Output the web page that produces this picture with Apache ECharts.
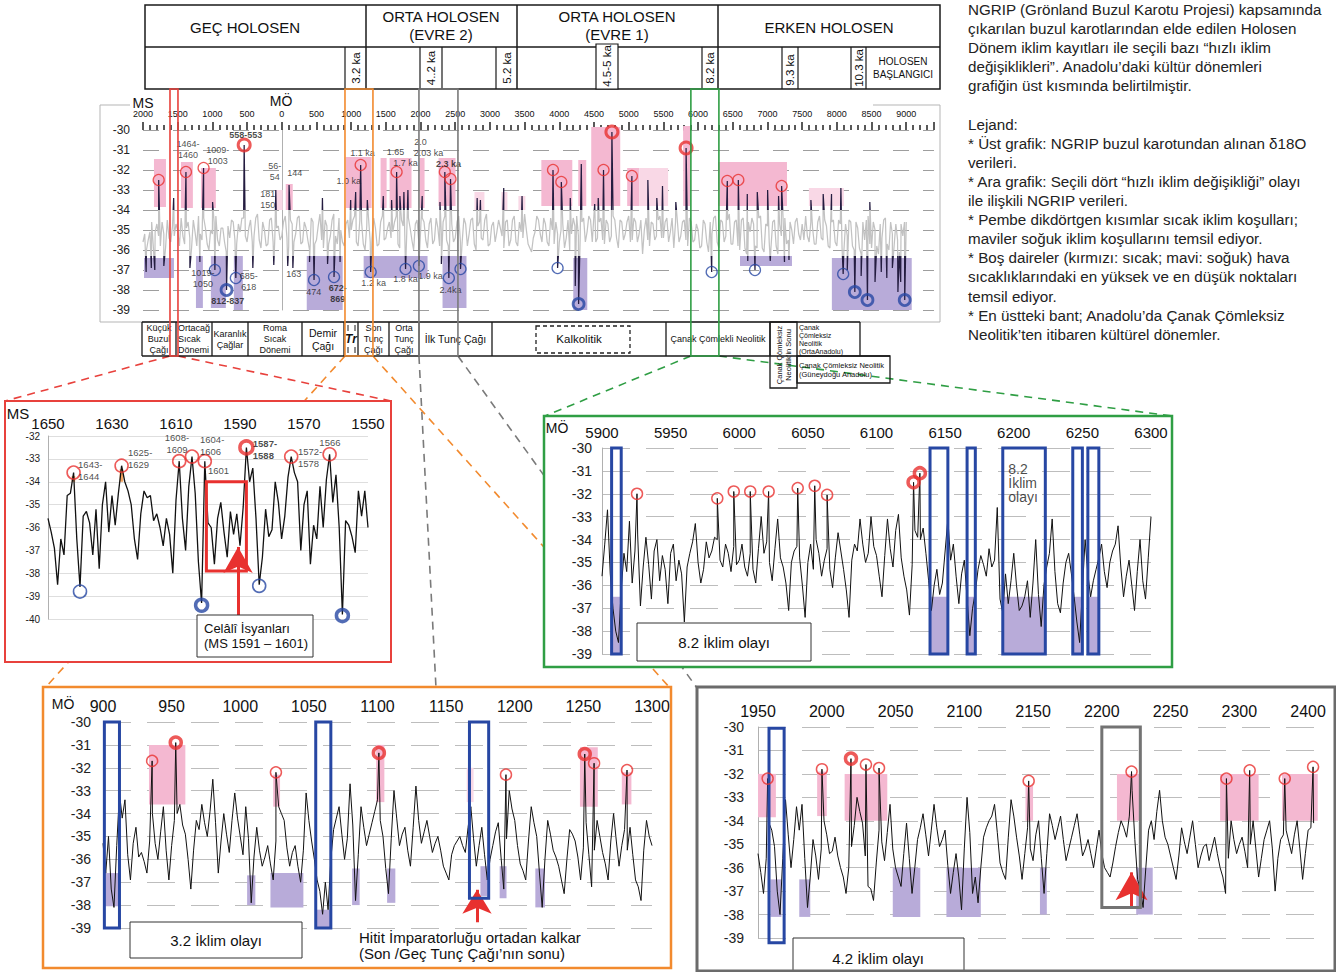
<!DOCTYPE html>
<html><head><meta charset="utf-8">
<script src="https://cdn.jsdelivr.net/npm/echarts@6/dist/echarts.min.js"></script>
<style>html,body{margin:0;padding:0;background:#fff;}#c{width:1336px;height:972px;}</style>
</head><body><div id="c"></div>
<script>
const FONT = '"Liberation Sans", Arial, sans-serif';
// ================= DATA =================
// Main chart: x = year, negative = MS (AD), positive = MÖ (BC)
const mainStart = -2000, mainStep = 50;
const mainValues = [
-35.6,-36.0,-35.1,-35.9,-34.7,-35.8,-35.2,-34.5,-35.6,-35.3,
-35.0,-34.4,-35.7,-34.6,-35.9,-35.1,-34.3,-35.5,-34.9,-36.0,
-35.2,-34.3,-35.8,-34.9,-36.1,-35.4,-34.6,-35.7,-35.1,-34.4,
-35.6,-34.5,-35.3,-34.2,-35.9,-35.0,-35.7,-34.4,-35.4,-34.8,
-35.3,-34.3,-35.8,-34.7,-35.2,-34.3,-35.6,-34.9,-36.0,-34.6,
-35.5,-34.2,-35.9,-34.8,-35.3,-34.2,-35.7,-35.0,-35.8,-34.5,
-35.0,-34.3,-35.8,-34.6,-36.0,-34.4,-35.4,-34.9,-35.7,-34.3,
-35.4,-34.6,-35.1,-34.3,-35.9,-34.8,-35.3,-34.9,-36.0,-34.5,
-35.1,-34.6,-35.9,-34.4,-35.5,-34.9,-35.2,-34.3,-35.8,-34.7,
-35.4,-34.3,-35.6,-34.7,-35.2,-34.4,-36.0,-34.6,-35.5,-34.2,
-35.7,-34.6,-35.1,-34.9,-35.9,-34.5,-35.5,-34.3,-35.8,-35.1,
-34.2,-35.7,-36.1,-35.1,-34.5,-35.6,-34.7,-35.8,-35.0,-34.6,
-35.6,-34.7,-35.4,-36.0,-34.4,-34.3,-35.5,-34.4,-35.1,-34.5,
-34.2,-35.4,-34.4,-35.7,-34.7,-35.3,-34.5,-35.9,-34.6,-35.2,
-34.3,-35.5,-34.6,-35.2,-36.2,-34.4,-35.8,-34.7,-35.3,-34.3,
-35.4,-34.4,-35.1,-35.9,-34.5,-35.3,-34.5,-35.8,-34.6,-35.5,
-35.0,-35.8,-34.7,-36.1,-35.2,-34.3,-35.9,-34.6,-35.3,-34.2,
-35.7,-34.5,-36.0,-34.4,-36.2,-35.1,-34.7,-35.9,-34.3,-36.1,
-34.8,-35.9,-34.5,-36.2,-35.3,-34.4,-35.5,-35.0,-34.6,-35.2,
-34.7,-34.3,-35.6,-34.9,-35.7,-34.3,-35.5,-34.8,-35.9,-34.5,
-35.8,-34.7,-36.1,-35.3,-34.6,-36.0,-34.9,-36.2,-35.5,-34.3,
-35.9,-35.0,-36.2,-35.4,-34.4,-36.0,-35.2,-34.7,-36.1,-35.3,
-34.6];
// readings half-way between the 50-year points above (years -1975, -1925, ...)
const mainMidStart = -1975;
const mainMidValues = [
-35.2,-35.5,-34.6,-35.1,-35.3,-34.6,-35.9,-35.4,-34.8,-34.7,
-35.8,-35.3,-34.9,-35.4,-34.5,-35.8,-35.2,-34.4,-35.7,-35.0,
-34.6,-35.5,-34.9,-35.6,-34.8,-34.5,-35.5,-34.7,-34.4,-35.3,
-34.9,-35.6,-34.4,-35.5,-34.6,-35.8,-34.5,-35.6,-34.9,-35.5,
-34.6,-35.4,-34.5,-35.6,-34.4,-35.7,-34.6,-35.5,-34.4,-35.7,
-34.8,-35.5,-34.5,-35.7,-34.5,-35.3,-34.4,-35.6,-34.7,-35.4,
-34.5,-35.6,-34.5,-35.7,-34.8,-35.6,-34.4,-35.8,-34.6,-35.5,
-34.9,-35.4,-34.6,-35.7,-34.5,-35.6,-34.4,-35.5,-34.7,-35.6,
-34.4,-35.5,-34.7,-35.7,-34.4,-35.8,-34.6,-35.5,-34.5,-35.6,
-34.6,-35.6,-34.4,-35.8,-34.5,-35.7,-34.8,-35.4,-34.5,-35.8,
-34.8,-35.6,-34.5,-35.3,-34.6,-35.8,-34.5,-35.6,-34.6,-35.4,
-35.0,-35.9,-35.4,-34.3,-35.2,-34.4,-35.6,-34.4,-35.7,-35.2,
-35.0,-35.9,-34.5,-35.2,-34.8,-35.3,-34.6,-35.6,-34.3,-35.6,
-35.6,-34.6,-35.5,-34.5,-35.6,-34.3,-35.4,-34.5,-35.5,-34.6,
-35.6,-34.4,-35.6,-34.5,-35.0,-35.5,-34.6,-35.5,-34.5,-35.4,
-34.6,-35.6,-34.4,-34.6,-35.6,-34.6,-35.5,-34.4,-35.6,-34.7,
-35.9,-34.5,-35.6,-34.6,-34.4,-35.6,-34.5,-35.6,-34.5,-35.7,
-34.6,-35.8,-34.5,-35.9,-34.6,-34.4,-35.8,-34.4,-35.9,-34.7,
-35.6,-34.6,-35.8,-34.7,-34.4,-35.7,-34.6,-35.7,-34.4,-35.5,
-35.5,-35.3,-34.6,-35.7,-34.6,-35.4,-34.5,-35.8,-34.6,-35.6,
-34.5,-35.9,-34.7,-34.5,-35.8,-34.6,-35.9,-34.6,-34.5,-35.7,
-34.6,-35.8,-34.7,-34.5,-35.7,-34.6,-35.8,-35.5,-34.7,-34.6];
const mainWarmPeaks = [[-1774,-32.5],[-1381,-32.1],[-1127,-31.9],[1137,-31.75],[1655,-32.1],[2350,-32.1],[2432,-32.45],[3909,-32.0],[4029,-32.6],[4637,-32.0],[5046,-32.3],[6421,-32.55],[6580,-32.5],[7204,-32.8]];
const mainWarmPeaksBold = [[-542,-30.75],[4758,-30.1],[5827,-30.9]];
const mainWarmSpikes = [[-1558,-33.4],[-997,-33.6],[-86,-33.0],[105,-32.75],[586,-33.4],[993,-33.5],[1065,-33.1],[1233,-33.5],[1463,-33.3],[1583,-33.5],[1702,-33.3],[1760,-33.1],[1818,-33.0],[2024,-33.3],[2280,-33.6],[2816,-33.4],[2863,-33.5],[3199,-32.9],[3463,-33.3],[4158,-33.4],[4317,-31.7],[4510,-33.7],[4561,-33.4],[5276,-32.5],[5405,-33.4],[5487,-32.8],[5679,-33.6],[6709,-33.2],[6853,-33.1],[7002,-33.0],[7160,-33.3],[7626,-33.5],[7803,-33.2],[7923,-33.2],[8058,-32.9],[8475,-33.6]];
const mainColdPeaks = [[-964,-37.0],[-662,-37.4],[465,-37.5],[753,-37.35],[1281,-37.1],[1784,-36.95],[1976,-36.8],[2408,-37.4],[2576,-36.95],[3975,-36.9],[6196,-37.1],[6820,-37.0],[8091,-37.2]];
const mainColdPeaksBold = [[-796,-38.0],[4278,-38.7],[8259,-38.1],[8441,-38.5],[8978,-38.5]];
const mainColdSpikes = [[-1955,-37.1],[-1880,-36.9],[-1830,-37.0],[-1700,-36.8],[-1324,-36.9],[-1180,-36.6],[-417,-36.9],[-115,-36.75],[86,-36.8],[160,-36.9],[400,-36.6],[660,-36.7],[840,-36.6],[2300,-36.7],[4230,-37.8],[6716,-36.55],[7040,-36.55],[7245,-36.6],[7310,-36.5],[8150,-37.0],[8350,-37.3],[8550,-37.6],[8640,-37.1],[8720,-37.4],[8800,-36.9],[8880,-38.1],[8920,-37.6]];
// boxes: [xFrom, xTo, yTop, yBottom]
const mainPinkBoxes = [[-1842,-1669,-31.45,-33.85],[-1453,-1281,-31.6,-33.9],[-1165,-950,-31.9,-33.9],[57,158,-32.7,-34.0],[921,1295,-31.35,-33.9],[1424,1511,-31.4,-33.9],[1554,1870,-31.4,-33.9],[1985,2058,-31.4,-33.9],[2259,2504,-31.4,-33.8],[3741,4187,-31.5,-33.8],[4273,4388,-31.5,-33.8],[4460,4878,-29.85,-33.8],[4978,5150,-31.9,-33.8],[5784,5885,-29.8,-33.8],[6288,7281,-31.6,-33.8]];
const mainLightPinkBoxes = [[-86,14,-33.0,-34.0],[2777,2921,-33.1,-34.0],[3165,3252,-33.1,-34.0],[3410,3511,-33.3,-34.0],[5150,5568,-31.9,-33.8],[7597,8101,-32.9,-33.8]];
const mainPurpleBoxes = [[-1986,-1554,-36.4,-37.4],[-1237,-1137,-36.3,-38.9],[-1022,-806,-36.3,-38.9],[-691,-561,-36.3,-39.0],[360,878,-36.3,-39.0],[1180,2101,-36.3,-37.4],[2317,2662,-36.3,-38.9],[4201,4403,-36.4,-39.0],[6604,7353,-36.3,-36.8],[7928,9079,-36.4,-39.0]];
// notes: [x, y, text, bold, align]
const mainNotes = [[-1353,-30.98,'1464-\n1460'],[-921,-31.25,'1009-\n1003'],[-518,-30.25,'558-553',1],[-101,-32.05,'56-\n54'],[-202,-33.45,'181\n150'],[187,-32.15,'144'],[1165,-31.15,'1.1 ka'],[964,-32.55,'1.0 ka'],[1640,-31.1,'1.65'],[1784,-31.65,'1.7 ka'],[2000,-30.6,'2.0'],[2115,-31.15,'2.03 ka'],[2403,-31.7,'2.3 ka',1],[-1137,-37.4,'1019-\n1050'],[-777,-38.55,'812-837',1],[-475,-37.55,'685-\n618'],[173,-37.2,'163'],[461,-38.1,'474'],[806,-38.15,'672-\n869',1],[1324,-37.65,'1.2 ka'],[1784,-37.45,'1.8 ka'],[2144,-37.3,'1.9 ka'],[2432,-38.0,'2.4ka']];
// zoom windows on the main axis
const winRed = [-1611,-1496], winOrange = [911,1314], winGray = [1977,2539], winGreen = [5896,6300];

// Red panel (MS 1650 -> 1550, yearly)
const redStart = 1650, redStep = -1;
const redValues = [
-35.6,-36.2,-36.9,-38.5,-36.5,-37.2,-34.6,-34.5,-33.6,-36.5,
-38.6,-35.5,-35.3,-35.8,-37.2,-35.2,-37.8,-35.0,-34.0,-36.2,
-34.6,-35.9,-34.5,-33.3,-34.0,-34.4,-35.0,-36.5,-37.4,-35.4,
-34.4,-34.7,-34.6,-35.7,-35.4,-36.0,-36.8,-35.6,-36.3,-38.0,
-34.8,-33.1,-35.6,-37.0,-34.2,-32.9,-34.5,-37.5,-39.3,-33.1,
-35.8,-36.0,-37.6,-35.6,-34.9,-36.2,-37.3,-35.3,-36.3,-35.4,
-36.8,-35.1,-32.5,-34.0,-33.4,-35.6,-38.5,-37.3,-35.2,-36.4,
-36.1,-34.0,-34.9,-36.5,-35.5,-33.8,-32.9,-33.6,-34.0,-37.0,
-35.0,-34.4,-37.6,-35.9,-36.5,-34.2,-36.0,-33.9,-32.8,-34.9,
-33.7,-36.0,-39.8,-35.7,-35.9,-36.4,-37.1,-34.4,-35.5,-34.4,
-36.0];
const redWarm = [[1642,-33.6],[1627,-33.3],[1609,-33.1],[1605,-32.9],[1601,-33.1],[1574,-32.9],[1562,-32.8]];
const redWarmBold = [[1588,-32.5]];
const redCold = [[1640,-38.8],[1584,-38.55]];
const redColdBold = [[1602,-39.4],[1558,-39.85]];
const redOrangeBoxes = [[1642.6,1641.5,-33.75,-34.0],[1627.6,1626.5,-33.45,-34.0]];
const redCelaliBox = [[1600.5,1588.0,-34.0,-37.9]];
const redArrow = [1590.6,-39.85,-36.85];
const redNotes = [[1640.6,-33.5,'1643-\n1644',0,'left'],[1625,-32.98,'1625-\n1629',0,'left'],[1609.7,-32.33,'1608-\n1609',0,'center'],[1602.5,-32.4,'1604-\n1606',0,'left'],[1600,-33.53,'1601',0,'left'],[1586,-32.6,'1587-\n1588',1,'left'],[1571.9,-32.94,'1572-\n1578',0,'left'],[1561.9,-32.3,'1566',0,'center']];

// Green panel (MÖ 5900 - 6300)
const greenStart = 5900, greenStep = 4;
const greenValues = [
-35.6,-32.7,-37.0,-38.5,-34.6,-33.2,-34.5,-36.9,-33.9,-36.6,
-34.0,-34.7,-36.8,-34.2,-34.9,-37.6,-34.6,-33.3,-35.9,-34.1,
-34.5,-34.0,-35.2,-34.6,-34.3,-34.9,-35.2,-34.6,-35.9,-33.0,
-34.1,-35.8,-33.1,-35.2,-37.1,-34.5,-34.8,-37.4,-34.2,-34.0,
-35.6,-34.4,-36.1,-33.7,-35.3,-37.4,-34.2,-33.1,-35.0,-33.0,
-34.7,-36.5,-33.1,-35.2,-32.9,-35.6,-37.3,-33.6,-34.0,-34.6,
-37.1,-35.3,-35.9,-33.1,-34.2,-36.8,-34.9,-38.2,-36.3,-34.7,
-35.6,-35.2,-32.6,-37.2,-36.8,-34.6,-37.1,-36.5,-37.4,-34.0,
-37.8,-35.2,-33.1,-36.8,-35.9,-34.6,-36.5,-38.5,-34.0,-36.5,
-35.3,-34.2,-36.1,-34.5,-33.4,-36.5,-34.9,-37.1,-34.0,-36.6,
-33.0];
const greenMidStart = 5902;
const greenMidValues = [
-34.2,-35.5,-38.0,-36.2,-35.4,-35.9,-33.8,-35.2,-35.1,-34.5,
-35.8,-35.3,-34.6,-35.8,-35.5,-35.2,-34.1,-35.0,-35.3,-34.8,
-33.9,-34.9,-34.2,-35.4,-35.1,-34.2,-35.6,-35.3,-34.4,-34.6,
-35.0,-34.4,-34.8,-35.9,-35.0,-34.3,-36.0,-35.0,-35.3,-34.6,
-34.9,-35.3,-34.8,-34.5,-36.2,-34.9,-34.5,-34.2,-34.6,-34.3,
-35.6,-34.7,-34.4,-33.6,-34.8,-36.2,-35.1,-33.9,-33.5,-35.8,
-36.0,-36.4,-34.5,-34.9,-35.6,-35.5,-36.6,-37.0,-35.3,-35.1,
-34.4,-34.9,-36.6,-35.5,-35.8,-36.0,-36.9,-35.8,-35.9,-36.4,
-36.0,-34.6,-35.4,-37.2,-35.0,-35.5,-37.6,-36.2,-35.5,-35.8,
-34.8,-35.4,-35.0,-34.2,-35.2,-35.6,-36.0,-35.4,-35.8,-34.8];
const greenPeaks = [[5925.5,-32.0],[5984,-32.2],[5996,-31.9],[6008,-31.9],[6021.4,-31.9],[6042.6,-31.75],[6055,-31.65],[6064,-32.05]];
const greenPeaksBold = [[6127,-31.5],[6131.6,-31.1]];
const greenBlueBoxes = [[5907,5914,-30,-39],[6139,6152,-30,-39],[6166,6172,-30,-39],[6192,6223,-30,-39],[6243,6250,-30,-39],[6254,6262,-30,-39]];
const greenPurpleBoxes = [[5907,5914,-36.5,-39],[6139,6152,-36.5,-39],[6166,6172,-36.5,-39],[6192,6223,-36.5,-39],[6243,6250,-36.5,-39],[6254,6262,-36.5,-39]];
const greenNotes = [[6196,-31.53,'8.2\nİklim\nolayı',0,'left']];

// Orange panel (MÖ 900 - 1300)
const orangeStart = 900, orangeStep = 4;
const orangeValues = [
-35.3,-35.0,-38.1,-33.1,-33.4,-36.9,-34.6,-35.7,-36.6,-34.0,
-36.0,-33.7,-36.9,-34.3,-33.6,-34.9,-37.3,-34.3,-33.6,-35.0,
-32.5,-36.6,-34.0,-35.7,-33.1,-35.0,-33.7,-37.9,-34.6,-36.3,
-35.4,-36.9,-33.7,-34.3,-36.3,-35.4,-37.0,-33.1,-35.2,-36.9,
-38.4,-38.2,-34.7,-33.7,-36.0,-32.7,-37.8,-33.7,-35.4,-34.4,
-33.4,-35.0,-37.5,-33.0,-35.4,-34.6,-36.3,-32.8,-35.3,-34.3,
-35.7,-35.0,-36.3,-36.9,-35.4,-35.0,-35.7,-33.7,-36.3,-34.6,
-36.9,-35.4,-34.4,-37.3,-33.0,-34.3,-36.2,-36.9,-33.7,-35.0,
-38.1,-34.3,-35.6,-36.3,-37.5,-34.7,-35.2,-36.9,-34.4,-37.2,
-34.3,-35.7,-36.9,-34.0,-36.3,-34.7,-34.6,-36.9,-37.8,-34.3,
-35.4];
const orangeMidStart = 902;
const orangeMidValues = [
-36.6,-37.3,-35.4,-34.2,-35.8,-35.3,-35.9,-36.1,-35.2,-35.3,
-34.8,-35.6,-35.4,-34.0,-34.5,-36.0,-35.6,-34.7,-34.4,-33.9,
-34.4,-35.2,-34.9,-34.3,-34.2,-35.8,-35.1,-35.9,-35.6,-35.9,
-36.2,-35.2,-34.0,-35.5,-35.7,-36.3,-35.6,-34.3,-36.0,-37.4,
-37.0,-36.0,-34.2,-34.9,-35.1,-34.5,-35.8,-34.6,-34.9,-33.9,
-34.3,-36.4,-35.1,-34.2,-34.9,-35.6,-34.6,-34.3,-34.8,-35.0,
-35.3,-35.6,-36.6,-35.8,-35.2,-35.4,-34.6,-35.1,-35.4,-35.8,
-36.0,-34.8,-35.9,-35.1,-33.8,-35.4,-36.5,-35.2,-34.4,-36.6,
-36.0,-34.9,-35.9,-36.9,-36.0,-34.9,-35.9,-35.5,-35.8,-35.6,
-35.0,-36.2,-35.2,-35.2,-35.4,-35.6,-35.8,-37.2,-35.6,-35.0];
const orangePeaks = [[935.8,-31.7],[1026,-32.2],[1193.6,-32.3],[1257.8,-31.8],[1281.8,-32.1]];
const orangePeaksBold = [[953,-30.9],[1101,-31.35],[1251,-31.4]];
const orangeBlueBoxes = [[901,912,-30,-39],[1055,1066,-30,-39],[1167,1181,-30,-37.7]];
const orangePinkBoxes = [[933.5,960,-31.0,-33.6],[1024,1029,-32.3,-33.7],[1099,1105,-31.0,-33.5],[1247.5,1260.5,-31.1,-33.7],[1278,1285,-32.2,-33.6]];
const orangeLightPinkBoxes = [[1165,1170,-32.0,-33.5]];
const orangePurpleBoxes = [[901,911,-36.6,-38.05],[1005,1011,-36.7,-38.0],[1022,1046,-36.6,-38.1],[1055,1066,-38.2,-39.0],[1081.5,1087,-36.4,-38.0],[1107,1113,-36.4,-37.9],[1175,1180,-36.3,-37.6],[1189,1194,-36.3,-37.7],[1215,1222,-36.4,-38.1]];
const orangeArrow = [1172.5,-38.75,-37.33];

// Gray panel (MÖ 1950 - 2400)
const grayStart = 1950, grayStep = 4;
const grayValues = [
-35.4,-37.1,-34.1,-35.1,-38.0,-33.1,-36.0,-33.4,-33.3,-37.7,
-34.8,-36.5,-34.0,-35.4,-34.7,-36.0,-37.1,-35.1,-33.0,-34.1,
-36.8,-37.4,-34.4,-35.7,-33.3,-36.0,-36.8,-34.1,-37.1,-34.8,
-33.7,-35.5,-33.3,-35.1,-34.4,-37.1,-35.4,-37.8,-33.0,-37.1,
-37.5,-34.7,-34.0,-33.3,-35.8,-36.5,-33.1,-34.7,-36.5,-34.3,
-35.7,-34.0,-37.1,-33.7,-34.8,-33.8,-35.7,-34.7,-33.7,-35.5,
-34.8,-36.0,-34.4,-36.0,-36.4,-35.1,-34.0,-34.7,-32.7,-36.5,
-37.7,-34.4,-34.8,-32.7,-34.7,-35.5,-36.5,-34.3,-35.4,-34.0,
-36.0,-35.1,-35.7,-34.7,-36.0,-37.1,-34.0,-35.4,-34.7,-36.0,
-34.0,-36.4,-34.8,-34.0,-37.0,-34.8,-34.4,-35.4,-34.0,-36.5,
-34.4,-34.1];
const grayMidStart = 1952;
const grayMidValues = [
-36.2,-35.6,-34.4,-37.0,-35.6,-34.6,-34.8,-34.4,-35.6,-36.4,
-35.5,-35.2,-34.6,-35.3,-35.5,-36.4,-36.0,-34.2,-33.6,-35.5,
-36.9,-35.8,-34.9,-34.5,-35.2,-36.4,-35.4,-35.6,-36.0,-34.3,
-34.6,-34.4,-34.3,-34.8,-35.9,-36.2,-36.4,-35.2,-34.5,-36.4,
-36.0,-34.3,-33.8,-34.5,-36.2,-34.7,-33.8,-35.5,-35.4,-35.2,
-34.6,-35.6,-35.4,-34.2,-34.3,-34.8,-35.2,-34.2,-34.6,-35.2,
-35.4,-35.2,-35.4,-36.2,-35.8,-34.5,-34.3,-33.8,-34.8,-36.9,
-36.0,-34.0,-33.6,-34.0,-35.0,-36.0,-35.5,-34.9,-34.7,-35.0,
-35.5,-35.0,-35.2,-35.4,-36.4,-35.6,-34.8,-35.0,-35.3,-35.0,
-35.2,-35.6,-34.4,-35.2,-35.6,-34.6,-34.9,-34.6,-35.2,-35.4,
-34.3];
const grayTickLabels = ['1950','2000','2050','2100','2150','2200','2250','2300','2400'];
const grayPeaks = [[1957,-32.2],[1996.5,-31.8],[2028.5,-31.6],[2038,-31.75],[2146.8,-32.3],[2221.6,-31.9],[2290.6,-32.2],[2307.5,-31.85],[2333,-32.2],[2353.6,-31.7]];
const grayPeaksBold = [[2017.6,-31.35]];
const grayBlueBoxes = [[1958,1969,-30.05,-39.2]];
const grayGrayBoxes = [[2200,2228,-30.0,-37.7]];
const grayPinkBoxes = [[1950,1963,-32.0,-33.85],[1993,2000,-31.9,-33.8],[2013,2044,-32.0,-34.0],[2144.5,2150,-32.5,-34.0],[2211,2227,-32.0,-34.0],[2286,2314,-32.0,-34.0],[2331,2357,-32.0,-34.0]];
const grayPurpleBoxes = [[1959,1967,-36.5,-38.1],[1980,1988,-36.5,-38.1],[2048,2068,-36.0,-38.1],[2087,2112,-36.0,-38.1],[2155,2160,-36.0,-38.0],[2225,2237,-36.0,-38.0]];
const grayArrow = [2221.6,-37.75,-36.2];

// Text content
const headerTop = ['GEÇ HOLOSEN','ORTA HOLOSEN\n(EVRE 2)','ORTA HOLOSEN\n(EVRE 1)','ERKEN HOLOSEN'];
const headerEvents = ['3.2 ka','4..2 ka','5.2 ka','4.5-5 ka','8.2 ka','9.3 ka','10.3 ka'];
const cultureNames = ['Küçük\nBuzul\nÇağı','Ortacağ\nSıcak\nDönemi','Karanlık\nÇağlar','Roma\nSıcak\nDönemi','Demir\nÇağı','Tr','Son\nTunç\nÇağı','Orta\nTunç\nÇağı','İlk Tunç Çağı','Kalkolitik','Çanak Çömlekli Neolitik'];
const sideText = 'NGRIP (Grönland Buzul Karotu Projesi) kapsamında\nçıkarılan buzul karotlarından elde edilen Holosen\nDönem iklim kayıtları ile seçili bazı “hızlı iklim\ndeğişiklikleri”. Anadolu’daki kültür dönemleri\ngrafiğin üst kısmında belirtilmiştir.\n\nLejand:\n* Üst grafik: NGRIP buzul karotundan alınan δ18O\nverileri.\n* Ara grafik: Seçili dört “hızlı iklim değişikliği” olayı\nile ilişkili NGRIP verileri.\n* Pembe dikdörtgen kısımlar sıcak iklim koşulları;\nmaviler soğuk iklim koşullarını temsil ediyor.\n* Boş daireler (kırmızı: sıcak; mavi: soğuk) hava\nsıcaklıklarındaki en yüksek ve en düşük noktaları\ntemsil ediyor.\n* En üstteki bant; Anadolu’da Çanak Çömleksiz\nNeolitik’ten itibaren kültürel dönemler.';

// ================= BUILD =================
const PINK='#f4b8d1', LPINK='#f9d8e6', PURPLE='#b8abd9', BLUE='#2747a3', RED='#e8312f', DARK='#241c40';
function baseSeries(start, step, vals){ return vals.map((v,i)=>[start+i*step, v]); }
function merged(bases, extras){ const p=[]; bases.forEach(b=>baseSeries(b[0],b[1],b[2]).forEach(q=>p.push(q))); extras.forEach(a=>a.forEach(q=>p.push([q[0],q[1]]))); p.sort((a,b)=>a[0]-b[0]); return p; }
function lineS(i, data, color, width, extra){ const ls = {width}; if(color) ls.color=color; return Object.assign({type:'line', xAxisIndex:i, yAxisIndex:i, data, showSymbol:false, symbol:'none', lineStyle:ls, z:5, silent:true, animation:false}, extra||{}); }
function boxS(i, groups, z){ const items=[], styles=[]; groups.forEach(g=>g[0].forEach(b=>{items.push(b.slice(0,4)); styles.push(g[1]);}));
  return {type:'custom', xAxisIndex:i, yAxisIndex:i, z, silent:true, animation:false, clip:false, data:items, encode:{x:[0,1], y:[2,3]},
    renderItem:(params, api)=>{ const a=api.coord([api.value(0),api.value(2)]), b=api.coord([api.value(1),api.value(3)]);
      return {type:'rect', shape:{x:Math.min(a[0],b[0]), y:Math.min(a[1],b[1]), width:Math.abs(b[0]-a[0]), height:Math.abs(b[1]-a[1])}, style:styles[params.dataIndex]}; }}; }
function circS(i, data, color, size, bw){ return {type:'scatter', xAxisIndex:i, yAxisIndex:i, data, symbol:'circle', symbolSize:size, itemStyle:{color:'rgba(255,255,255,0)', borderColor:color, borderWidth:bw}, z:8, silent:true, animation:false}; }
function noteS(i, arr, fs, lh){ return {type:'scatter', xAxisIndex:i, yAxisIndex:i, symbolSize:1, itemStyle:{color:'rgba(0,0,0,0)'}, z:9, silent:true, animation:false,
  data: arr.map(n=>({value:[n[0],n[1]], label:{show:true, position:'inside', formatter:n[2], fontWeight:n[3]?'bold':'normal', align:n[4]||'center', verticalAlign:'middle', fontSize:fs, lineHeight:lh, color:'#1a1a1a', fontFamily:FONT}}))}; }
function arrowML(a, w, h){ return {silent:true, animation:false, symbol:['none','arrow'], symbolSize:[w,h], lineStyle:{color:RED, width:3, type:'solid'}, itemStyle:{color:RED}, label:{show:false}, emphasis:{disabled:true},
  data:[[{coord:[a[0],a[1]]},{coord:[a[0],a[2]]}]]}; }
const fill = c => ({fill:c, stroke:'none'});
const outline = (c,w) => ({fill:'none', stroke:c, lineWidth:w});

function xAx(i, min, max, interval, fs, margin, fmt, extra){ return Object.assign({gridIndex:i, type:'value', min, max, interval, position:'top', z:3,
  axisLine:{show:false}, axisTick:{show:false}, splitLine:{show:false},
  axisLabel:{fontSize:fs, margin, color:'#111', fontFamily:FONT, showMinLabel:true, showMaxLabel:true, formatter:fmt}}, extra||{}); }
function yAx(i, min, max, fs, margin, dash, col){ return {gridIndex:i, type:'value', min, max, interval:1, z:3,
  axisLine:{show:true, lineStyle:{color:'#b0b0b0'}}, axisTick:{show:false},
  axisLabel:{fontSize:fs, margin, color:'#222', fontFamily:FONT},
  splitLine:{show:true, lineStyle:{color:col||'#bdbdbd', width:1, type:dash}}}; }

const mainData = merged([[mainStart, mainStep, mainValues],[mainMidStart, mainStep, mainMidValues]], [mainWarmPeaks, mainWarmPeaksBold, mainWarmSpikes, mainColdPeaks, mainColdPeaksBold, mainColdSpikes]);

const option = {
  animation:false,
  textStyle:{fontFamily:FONT},
  grid:[
    {left:143, top:130, width:791, height:180},
    {left:48, top:436, width:320, height:183},
    {left:602, top:448, width:549, height:206},
    {left:103, top:722, width:549, height:206},
    {left:758, top:727, width:557, height:211}
  ],
  xAxis:[
    xAx(0,-2000,9400,500,9,12,v=>v>9000?'':String(Math.abs(v)),{axisTick:{show:true,length:8,lineStyle:{color:'#222',width:1.5}}, minorTick:{show:true,splitNumber:5,length:5,lineStyle:{color:'#222',width:1.5}}}),
    xAx(1,1550,1650,10,15,5,v=>((v-1550)%20===0?String(v):''),{inverse:true}),
    xAx(2,5900,6300,50,15,8,v=>String(v)),
    xAx(3,900,1300,50,16,8,v=>String(v)),
    xAx(4,1950,2355,50,16,8,v=>{ if((v-1950)%50!==0) return ''; return grayTickLabels[(v-1950)/50]||''; })
  ],
  yAxis:[
    yAx(0,-39,-30,12,13,[16,14],'#9e9e9e'),
    yAx(1,-40,-32,10,8,'solid','#dedede'),
    yAx(2,-39,-30,14,10,[28,16]),
    yAx(3,-39,-30,14,12,[28,16]),
    yAx(4,-39,-30,14,14,[28,16])
  ],
  visualMap:[{type:'piecewise', show:false, seriesIndex:0, dimension:1,
    pieces:[{lt:-36.3, color:DARK},{gte:-36.3, lte:-34.0, color:'#c2c2c2'},{gt:-34.0, color:DARK}]}],
  series:[
    lineS(0, mainData, null, 1.25),
    boxS(0, [[mainPinkBoxes, fill(PINK)],[mainLightPinkBoxes, fill(LPINK)],[mainPurpleBoxes, fill(PURPLE)]], 4),
    circS(0, mainWarmPeaks, RED, 11, 1.3),
    circS(0, mainWarmPeaksBold, RED, 12, 3),
    circS(0, mainColdPeaks, BLUE, 11, 1.3),
    circS(0, mainColdPeaksBold, BLUE, 11, 2.8),
    noteS(0, mainNotes, 9, 11),
    // red
    lineS(1, baseSeries(redStart, redStep, redValues), '#111', 1.3, {markLine: arrowML(redArrow, 22, 26)}),
    boxS(1, [[redOrangeBoxes, fill('#f4a460')]], 4),
    boxS(1, [[redCelaliBox, outline('#e8312f', 3)]], 6),
    circS(1, redWarm, RED, 13, 1.6),
    circS(1, redWarmBold, RED, 13, 3.5),
    circS(1, redCold, BLUE, 13, 1.6),
    circS(1, redColdBold, BLUE, 12, 3.5),
    noteS(1, redNotes, 9.5, 12),
    // green
    lineS(2, merged([[greenStart, greenStep, greenValues],[greenMidStart, greenStep, greenMidValues]], [greenPeaks, greenPeaksBold]), '#111', 1),
    boxS(2, [[greenPurpleBoxes, fill(PURPLE)]], 4),
    boxS(2, [[greenBlueBoxes, outline(BLUE, 3)]], 6),
    circS(2, greenPeaks, RED, 11, 1.5),
    circS(2, greenPeaksBold, RED, 11, 3.5),
    noteS(2, greenNotes, 14, 14),
    // orange
    lineS(3, merged([[orangeStart, orangeStep, orangeValues],[orangeMidStart, orangeStep, orangeMidValues]], [orangePeaks, orangePeaksBold]), '#111', 1, {markLine: arrowML(orangeArrow, 22, 24)}),
    boxS(3, [[orangePinkBoxes, fill(PINK)],[orangeLightPinkBoxes, fill(LPINK)],[orangePurpleBoxes, fill(PURPLE)]], 4),
    boxS(3, [[orangeBlueBoxes, outline(BLUE, 3)]], 6),
    circS(3, orangePeaks, RED, 11, 1.5),
    circS(3, orangePeaksBold, RED, 11, 3.5),
    // gray
    lineS(4, merged([[grayStart, grayStep, grayValues],[grayMidStart, grayStep, grayMidValues]], [grayPeaks, grayPeaksBold]), '#111', 1, {markLine: arrowML(grayArrow, 24, 28)}),
    boxS(4, [[grayPinkBoxes, fill(PINK)],[grayPurpleBoxes, fill(PURPLE)]], 4),
    boxS(4, [[grayBlueBoxes, outline(BLUE, 3)],[grayGrayBoxes, outline('#737373', 3)]], 6),
    circS(4, grayPeaks, RED, 11, 1.5),
    circS(4, grayPeaksBold, RED, 11, 3.5)
  ]
};

const chart = echarts.init(document.getElementById('c'), null, {renderer:'svg', width:1336, height:972});
chart.setOption(option);

// ================= GRAPHIC (layout) =================
const G = [];
function gRect(x,y,w,h,stroke,lw,fillc,z,dash){ G.push({type:'rect', silent:true, z:(z==null?10:z), shape:{x,y,width:w,height:h}, style:{stroke:stroke||'none', lineWidth:lw||1, fill:fillc||'none', lineDash:dash||null}}); }
function gLine(x1,y1,x2,y2,stroke,lw,dash,z){ G.push({type:'line', silent:true, z:(z==null?10:z), shape:{x1,y1,x2,y2}, style:{stroke, lineWidth:lw||1, lineDash:dash||null}}); }
function gText(x,y,text,o){ o=o||{}; const al=o.align||'center', va=o.valign||'middle', fs=o.size||12;
  G.push({type:'text', silent:true, z:(o.z==null?11:o.z), x, y, rotation:o.rot||0,
    style:{text, x:0, y:0, fill:o.color||'#111', fontSize:fs, fontFamily:FONT, fontWeight:o.weight||'normal', fontStyle:o.style||'normal',
      textAlign:al, align:al, textVerticalAlign:va, verticalAlign:va, lineHeight:o.lh||Math.round(fs*1.2)}}); }

// Header table
const HC='#1a1a1a';
gRect(145,5,795,84,HC,1.5);
gLine(145,47,940,47,HC,1.5);
[366,517,718].forEach(x=>gLine(x,5,x,89,HC,1.5));
[345,420,442,496,702,782,798,851,866].forEach(x=>gLine(x,47,x,89,HC,1.2));
gRect(596,44,22,45,HC,1.2,'#fff',10);
gText(245,27,headerTop[0],{size:15});
gText(441,25,headerTop[1],{size:15,lh:18});
gText(617,25,headerTop[2],{size:15,lh:18});
gText(829,27,headerTop[3],{size:15});
const evPos=[[355.5,68],[431,68],[506.5,68],[607,66],[710,68],[790,70],[858.5,68]];
headerEvents.forEach((t,i)=>gText(evPos[i][0],evPos[i][1],t,{size:11.5,rot:Math.PI/2}));
gText(903,68,'HOLOSEN\nBAŞLANGICI',{size:10,lh:13});

// Main chart frame + axis names
G.push({type:'polyline', silent:true, z:1, shape:{points:[[130,105],[100,105],[100,322],[940,322],[940,105],[873,105]]}, style:{stroke:'#b5b5b5', lineWidth:1, fill:'none'}});
gText(143,103,'MS',{size:14});
gText(281,101,'MÖ',{size:14});

// Culture band
const bandX=[142,176,212,248,302,344,358,389,419,492,666,770];
gLine(142,322,860,322,HC,1.5); gLine(142,356,890,356,HC,1.5);
bandX.forEach(x=>gLine(x,322,x,356,HC,1.3));
gRect(770,322,27,66,HC,1.3); gRect(797,356,93,27,HC,1.3); gLine(860,322,860,356,HC,1.3);
gRect(536,326,94,27,'#222',1.3,null,10,[4,3]);
[[348,325,331],[355,325,331],[348,347,353],[355,347,353]].forEach(a=>gLine(a[0],a[1],a[0],a[2],HC,1));
cultureNames.forEach((t,i)=>{ const x1=bandX[i], x2=bandX[i+1]; let o={size:9, lh:11};
  if(t==='Demir\nÇağı'||t==='İlk Tunç Çağı') o={size:10.5,lh:13};
  if(t==='Kalkolitik') o={size:11.5};
  if(t==='Tr') o={size:12,weight:'bold',style:'italic'};
  if(t==='Çanak Çömlekli Neolitik') o={size:9};
  if(i===1){ o.align='left'; gText(x1+2,339,t,o); } else gText((x1+x2)/2,339,t,o); });
gText(783.5,355,'Çanak Çömleksiz\nNeolitik’in Sonu',{size:7.5,lh:9,rot:Math.PI/2});
gText(799,339,'Çanak\nÇömleksiz\nNeolitik\n(OrtaAnadolu)',{size:7,lh:8,align:'left'});
gText(799,370,'Çanak Çömleksiz Neolitik\n(Güneydoğu Anadolu)',{size:7.5,lh:9.5,align:'left'});

// Side text
gText(968,0,sideText,{size:15.2,lh:19.1,align:'left',valign:'top',color:'#222'});

// Zoom windows and connectors
const px = v => chart.convertToPixel({xAxisIndex:0}, v);
const wins=[[winRed,'#e8413c',[5,401],[391,401]],[winOrange,'#f28a2e',[45,688],[670,688]],[winGray,'#7a7a7a',[436,688],[697,688]],[winGreen,'#2f9e44',[545,416],[1172,416]]];
wins.forEach(w=>{ const x1=px(w[0][0]), x2=px(w[0][1]);
  gRect(x1,89,x2-x1,267,w[1],1.6,null,12);
  gLine(x1,356,w[2][0],w[2][1],w[1],1.6,[8,6],0);
  gLine(x2,356,w[3][0],w[3][1],w[1],1.6,[8,6],0); });

// Panels: backgrounds + frames
const panels=[[5,401,386,261,'#e8413c',2],[544,416,628,251,'#2f9e44',2.5],[43,687,628,281,'#f28a2e',2.5],[697,687,638,284,'#6b6b6b',3]];
panels.forEach(p=>{ gRect(p[0],p[1],p[2],p[3],null,0,'#fff',1); gRect(p[0],p[1],p[2],p[3],p[4],p[5],null,12); });
gText(18,413,'MS',{size:15});
gText(557,428,'MÖ',{size:14});
gText(63,704,'MÖ',{size:14});

// Text boxes in panels
gRect(197,615,116,42,'#333',1,'#fff',11);
gText(204,636,'Celâlî İsyanları\n(MS 1591 – 1601)',{size:13,lh:15,align:'left',z:12});
gRect(637,623,174,38,'#333',1,'#fff',11);
gText(724,642,'8.2 İklim olayı',{size:15,z:12});
gRect(130,922,172,36,'#333',1,'#fff',11);
gText(216,940,'3.2 İklim olayı',{size:15,z:12});
gRect(793,938,171,40,'#333',1,'#fff',11);
gText(878,958,'4.2 İklim olayı',{size:15,z:12});
gText(359,945,'Hitit İmparatorluğu ortadan kalkar\n(Son /Geç Tunç Çağı’nın sonu)',{size:15,lh:16,align:'left',z:12});

chart.setOption({graphic: G});
</script>
</body></html>
